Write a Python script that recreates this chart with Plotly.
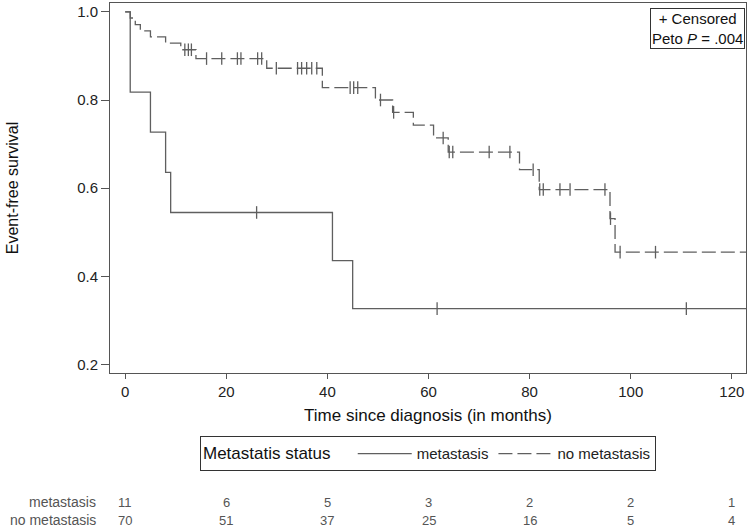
import numpy as np
import plotly.graph_objects as go

# ---- data ----
met_times = [0, 1, 5, 8, 9, 41, 45]
met_surv = [1.0, 0.818, 0.727, 0.636, 0.545, 0.436, 0.327]
met_censor = [26, 61.7, 111]

nomet_times = [0, 1, 2, 3, 5, 8, 11, 14, 28, 39, 49.5, 52.9, 57, 61, 63.9, 78, 81.9, 95.9, 96.9]
nomet_surv = [1.0, 0.986, 0.971, 0.957, 0.943, 0.929, 0.914, 0.894, 0.872, 0.828,
              0.800, 0.772, 0.743, 0.714, 0.682, 0.642, 0.597, 0.531, 0.455]
nomet_censor = [11.8, 12.5, 13.1, 16.1, 19.1, 22.2, 22.9, 26.2, 27.0, 29.9, 34.1, 34.9,
                35.9, 36.9, 37.9, 44.5, 45.2, 46.0, 50.5, 53.1, 62.9, 64.1, 64.8, 72,
                76.1, 80.7, 82.0, 82.7, 86, 88, 94.9, 96.0, 97.9, 104.9]
end_time = 126

risk_times = [0, 20, 40, 60, 80, 100, 120]
risk_met = [11, 6, 5, 3, 2, 2, 1]
risk_nomet = [70, 51, 37, 25, 16, 5, 4]

group_names = ["metastasis", "no metastasis"]

LINE = "rgb(95,95,95)"
FONT = "Liberation Sans, Arial, sans-serif"
NARROW = "Liberation Sans Narrow, Arial Narrow, Liberation Sans"


def step_value(times, surv, t):
    idx = np.searchsorted(np.array(times), np.array(t), side="right") - 1
    return np.array(surv)[idx]


fig = go.Figure()
groups = [
    (met_times, met_surv, met_censor, "solid", group_names[0]),
    (nomet_times, nomet_surv, nomet_censor, "14px,5px", group_names[1]),
]
for times, surv, cens, dash, name in groups:
    fig.add_trace(go.Scatter(
        x=list(times) + [end_time], y=list(surv) + [surv[-1]],
        mode="lines", line=dict(shape="hv", color=LINE, width=1.3, dash=dash),
        name=name, showlegend=True))
    fig.add_trace(go.Scatter(
        x=cens, y=step_value(times, surv, cens), mode="markers",
        marker=dict(symbol="line-ns-open", size=9, color=LINE,
                    line=dict(color=LINE, width=1.3)),
        showlegend=False, hoverinfo="skip"))

plot_l, plot_r, plot_t, plot_b = 110, 746, 3, 372.7
pw = plot_r - plot_l
ph = plot_b - plot_t


def py(y):
    return (plot_b - y) / ph


annotations = []
for t, a, b in zip(risk_times, risk_met, risk_nomet):
    for val, yy in ((a, 502), (b, 520)):
        annotations.append(dict(x=t, xref="x", y=py(yy), yref="paper", text=str(val),
                                showarrow=False, xanchor="center", yanchor="middle",
                                font=dict(size=13, color="#555", family=NARROW)))
for name, yy in zip(group_names, [502, 520]):
    annotations.append(dict(x=(98 - plot_l) / pw, xref="paper", y=py(yy), yref="paper",
                            text=name, showarrow=False, xanchor="right", yanchor="middle",
                            font=dict(size=14, color="#555", family=NARROW)))
annotations.append(dict(x=(745 - plot_l) / pw, xref="paper", y=py(8), yref="paper",
                        text="+ Censored<br>Peto <i>P</i> = .004", showarrow=False,
                        xanchor="right", yanchor="top", align="center",
                        bordercolor="#333", borderwidth=1, borderpad=1,
                        bgcolor="white", font=dict(size=15, color="#111", family=FONT)))

fig.update_layout(
    width=750, height=528,
    margin=dict(l=plot_l, r=750 - plot_r, t=plot_t, b=528 - plot_b),
    paper_bgcolor="white", plot_bgcolor="white",
    font=dict(family=FONT, color="#222", size=15),
    showlegend=True,
    legend=dict(orientation="h", x=0.5, xanchor="center",
                y=py(453.5), yanchor="middle",
                bordercolor="#333", borderwidth=1, bgcolor="white",
                font=dict(size=15, color="#222"),
                title=dict(text="Metastatis status   ", side="left", font=dict(size=17, color="#111")),
                itemwidth=54, tracegroupgap=0),
    annotations=annotations,
)
fig.update_xaxes(range=[-3, 122.8], tickvals=risk_times, ticks="outside", ticklen=5,
                 tickcolor="#555", showline=True, linecolor="#555", linewidth=1, mirror=True,
                 showgrid=False, zeroline=False, tickfont=dict(size=15, color="#222"),
                 title=dict(text="Time since diagnosis (in months)", font=dict(size=17, color="#111"),
                            standoff=10))
fig.update_yaxes(range=[0.181, 1.02], tickvals=[0.2, 0.4, 0.6, 0.8, 1.0],
                 ticktext=["0.2", "0.4", "0.6", "0.8", "1.0"], ticks="outside", ticklen=8,
                 tickcolor="#555", showline=True, linecolor="#555", linewidth=1, mirror=True,
                 showgrid=False, zeroline=False, tickfont=dict(size=15, color="#222"),
                 title=dict(text="Event-free survival", font=dict(size=16, color="#111"),
                            standoff=54))

fig.write_html("out.html", config={"displayModeBar": False},
               post_script="document.body.style.margin='0';document.body.style.padding='0';")
